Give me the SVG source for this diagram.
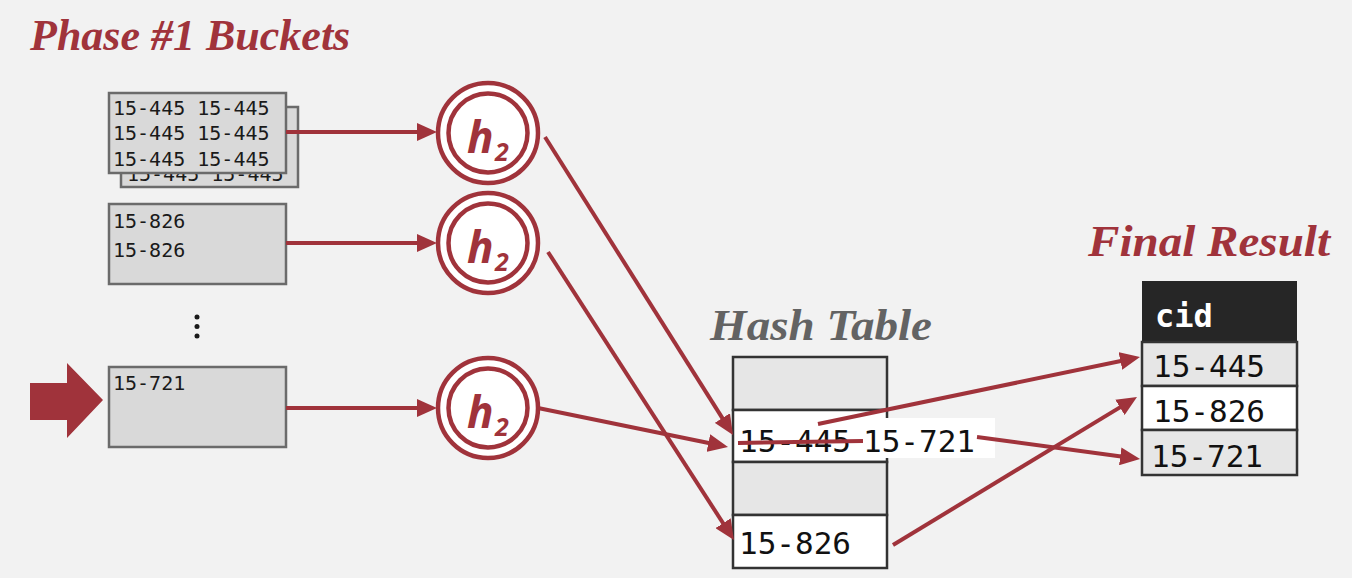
<svg xmlns="http://www.w3.org/2000/svg" width="1352" height="578" viewBox="0 0 1352 578">
<style>
.title{font-family:"Liberation Serif","Times New Roman",serif;font-weight:bold;font-style:italic;font-size:44px}
.bucket{fill:#d9d9d9;stroke:#6b6b6b;stroke-width:2.5}
.btxt{font-family:"DejaVu Sans Mono","Liberation Mono",monospace;font-size:20px;fill:#1a1a1a}
.ring{fill:#ffffff;stroke:#a0333b;stroke-width:4.5}
.hname{font-family:"Noto Sans","Liberation Sans",sans-serif;font-weight:bold;font-style:italic;fill:#a0333b}
.cell{stroke:#333333;stroke-width:2.5}
.big{font-family:"DejaVu Sans Mono","Liberation Mono",monospace;font-size:31px;fill:#111111}
.conn{stroke:#a0333b;stroke-width:4;fill:none}
</style>
<defs>
<marker id="ah" viewBox="0 0 20 18" markerUnits="userSpaceOnUse" markerWidth="20" markerHeight="18" refX="14" refY="9" orient="auto">
<path d="M0,0 L20,9 L0,18 z" fill="#a0333b"/>
</marker>
<clipPath id="backclip"><rect x="110" y="174" width="200" height="20"/></clipPath>
</defs>
<rect x="0" y="0" width="1352" height="578" fill="#f2f2f2"/>

<text class="title" x="30" y="50" fill="#a0333b">Phase #1 Buckets</text>
<text class="title" x="710" y="340" fill="#636363" textLength="222" lengthAdjust="spacingAndGlyphs">Hash Table</text>
<text class="title" x="1088" y="256" fill="#a0333b" textLength="242" lengthAdjust="spacingAndGlyphs">Final Result</text>

<g id="bucket1">
<rect class="bucket" x="121" y="107" width="177" height="80"/>
<text class="btxt" x="127" y="181" clip-path="url(#backclip)">15-445 15-445</text>
<rect class="bucket" x="109" y="93" width="177" height="80"/>
<text class="btxt" x="113" y="115">15-445 15-445</text>
<text class="btxt" x="113" y="140">15-445 15-445</text>
<text class="btxt" x="113" y="166">15-445 15-445</text>
</g>
<g id="bucket2">
<rect class="bucket" x="109" y="204" width="177" height="80"/>
<text class="btxt" x="113" y="228">15-826</text>
<text class="btxt" x="113" y="257">15-826</text>
</g>
<g id="dots" fill="#1a1a1a">
<circle cx="197" cy="317" r="2.5"/>
<circle cx="197" cy="326.5" r="2.5"/>
<circle cx="197" cy="336" r="2.5"/>
</g>
<g id="bucket3">
<rect class="bucket" x="109" y="367" width="177" height="80"/>
<text class="btxt" x="113" y="390">15-721</text>
</g>
<g id="cursor">
<polygon points="30,383 67,383 67,363 103,400 67,438 67,420 30,420" fill="#a0333b"/>
</g>

<g id="hash1">
<circle class="ring" cx="488" cy="133" r="50"/>
<circle class="ring" cx="488" cy="133" r="39.5" stroke-width="5"/>
<text class="hname" x="467" y="153" font-size="44">h</text>
<text class="hname" x="495" y="161" font-size="25">2</text>
</g>
<g id="hash2">
<circle class="ring" cx="488" cy="243" r="50"/>
<circle class="ring" cx="488" cy="243" r="39.5" stroke-width="5"/>
<text class="hname" x="467" y="263" font-size="44">h</text>
<text class="hname" x="495" y="271" font-size="25">2</text>
</g>
<g id="hash3">
<circle class="ring" cx="488" cy="408" r="50"/>
<circle class="ring" cx="488" cy="408" r="39.5" stroke-width="5"/>
<text class="hname" x="467" y="428" font-size="44">h</text>
<text class="hname" x="495" y="436" font-size="25">2</text>
</g>

<g id="hashtable">
<rect class="cell" x="733" y="357" width="154" height="53" fill="#e6e6e6"/>
<rect class="cell" x="733" y="410" width="154" height="52" fill="#ffffff"/>
<rect class="cell" x="733" y="462" width="154" height="53" fill="#e6e6e6"/>
<rect class="cell" x="733" y="515" width="154" height="53" fill="#ffffff"/>
<text class="big" x="739" y="452">15-445</text>
<rect x="860" y="418" width="135" height="40" fill="#ffffff"/>
<text class="big" x="863" y="452">15-721</text>
<text class="big" x="739" y="554">15-826</text>
</g>

<g id="result">
<rect x="1142" y="281" width="155" height="61" fill="#262626"/>
<text x="1155" y="327" font-family="DejaVu Sans Mono, Liberation Mono, monospace" font-weight="bold" font-size="32" fill="#ffffff">cid</text>
<rect class="cell" x="1142" y="342" width="155" height="44" fill="#e6e6e6"/>
<rect class="cell" x="1142" y="386" width="155" height="44" fill="#ffffff"/>
<rect class="cell" x="1142" y="430" width="155" height="45" fill="#e6e6e6"/>
<text class="big" x="1153" y="377" font-size="30" fill="#2a2a2a">15-445</text>
<text class="big" x="1153" y="422" font-size="30" fill="#2a2a2a">15-826</text>
<text class="big" x="1151" y="467" font-size="30" fill="#111111">15-721</text>
</g>

<g id="connectors">
<line class="conn" x1="286" y1="132" x2="431" y2="132" marker-end="url(#ah)"/>
<line class="conn" x1="286" y1="243" x2="431" y2="243" marker-end="url(#ah)"/>
<line class="conn" x1="286" y1="408" x2="431" y2="408" marker-end="url(#ah)"/>
<line class="conn" x1="545" y1="137" x2="729.8" y2="429.9" marker-end="url(#ah)"/>
<line class="conn" x1="548" y1="252" x2="730.7" y2="535" marker-end="url(#ah)"/>
<line class="conn" x1="538" y1="408" x2="722.1" y2="445.8" marker-end="url(#ah)"/>
<line class="conn" x1="738" y1="443" x2="863" y2="441"/>
<line class="conn" x1="818" y1="424" x2="1134.1" y2="358.2" marker-end="url(#ah)"/>
<line class="conn" x1="977" y1="437" x2="1134.1" y2="458.2" marker-end="url(#ah)"/>
<line class="conn" x1="893" y1="545" x2="1131.9" y2="400.1" marker-end="url(#ah)"/>
</g>
</svg>
